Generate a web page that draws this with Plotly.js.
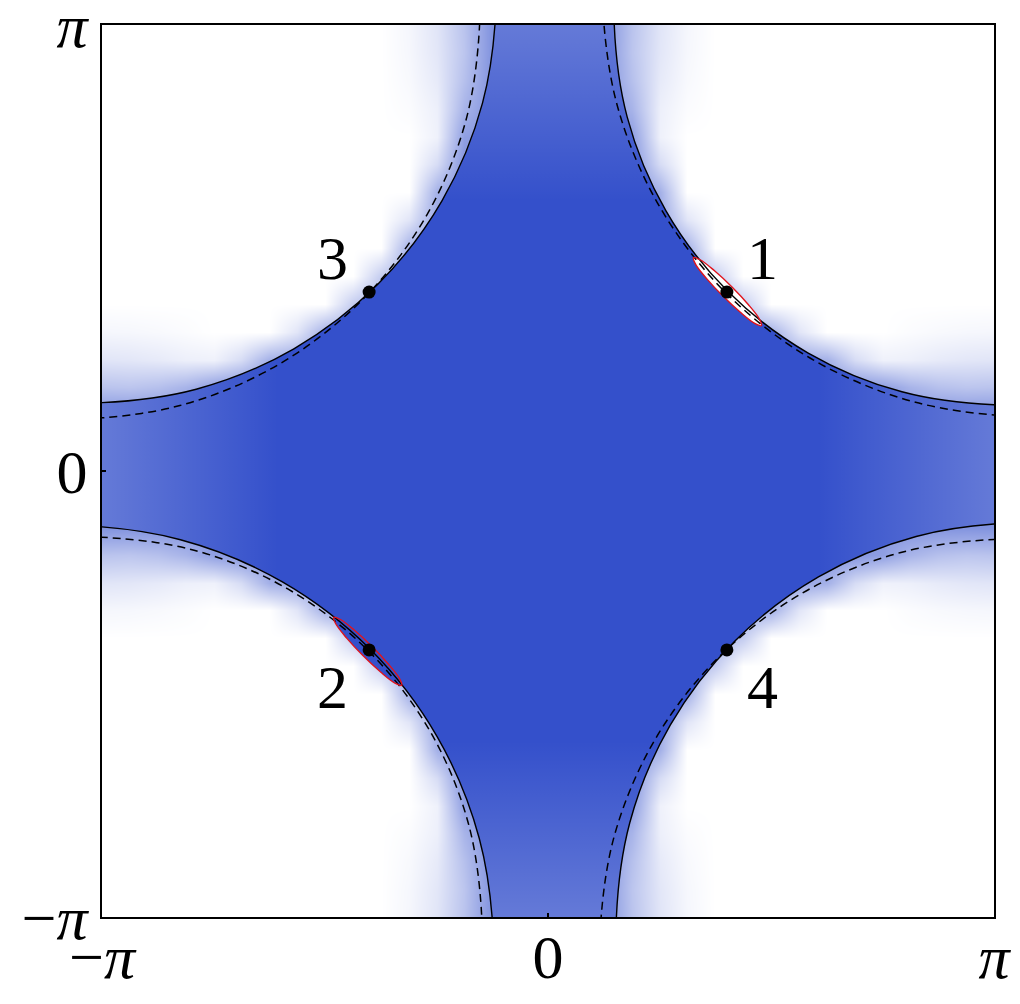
<!DOCTYPE html>
<html>
<head>
<meta charset="utf-8">
<script src="https://cdn.plot.ly/plotly-3.0.1.min.js"></script>
<style>
  html, body { margin: 0; padding: 0; background: #fff; }
  #fermi { width: 1020px; height: 1004px; }
</style>
</head>
<body>
<div id="fermi"></div>
<script>
// faint weight outside the solid contours
// one quadrant (x, y from 0 to pi, step pi/16), rows are y, columns are x; 0 = white, 1 = full blue
const haloQuadrant = [
  [.6, .6, .6, .6, .6, .6, .6, .6, .6, .6, .6, .6, .6, .6, .6, .6, .6],
  [.6, .6, .6, .6, .6, .6, .6, .6, .6, .6, .6, .6, .6, .6, .6, .6, .6],
  [.6, .6, .6, .6, .6, .6, .6, .6, .6, .6, .6, .6, .6, .62, .62, .62, .62],
  [.6, .6, .6, .6, .6, .6, .6, .6, .6, .6, .6, .6, .55, .43, .36, .33, .34],
  [.6, .6, .6, .6, .5, .5, .5, .5, .5, .5, .45, .2, .08, .09, .12, .14, .15],
  [.6, .6, .6, .6, .5, .45, .45, .45, .45, .15, 0, 0, 0, .02, .035, .045, .05],
  [.6, .6, .6, .6, .5, .45, .45, .29, 0, 0, 0, 0, 0, 0, 0, 0, 0],
  [.6, .6, .6, .6, .5, .45, .29, 0, 0, 0, 0, 0, 0, 0, 0, 0, 0],
  [.6, .6, .6, .6, .5, .45, 0, 0, 0, 0, 0, 0, 0, 0, 0, 0, 0],
  [.6, .6, .6, .6, .5, .15, 0, 0, 0, 0, 0, 0, 0, 0, 0, 0, 0],
  [.6, .6, .6, .6, .45, 0, 0, 0, 0, 0, 0, 0, 0, 0, 0, 0, 0],
  [.6, .6, .6, .6, .2, 0, 0, 0, 0, 0, 0, 0, 0, 0, 0, 0, 0],
  [.6, .6, .6, .55, .08, 0, 0, 0, 0, 0, 0, 0, 0, 0, 0, 0, 0],
  [.6, .6, .62, .43, .09, .02, 0, 0, 0, 0, 0, 0, 0, 0, 0, 0, 0],
  [.6, .6, .62, .36, .12, .035, 0, 0, 0, 0, 0, 0, 0, 0, 0, 0, 0],
  [.6, .6, .62, .33, .14, .045, 0, 0, 0, 0, 0, 0, 0, 0, 0, 0, 0],
  [.6, .6, .62, .34, .15, .05, 0, 0, 0, 0, 0, 0, 0, 0, 0, 0, 0]
];

// the four arms get paler towards the zone edge: position where it starts, weight lost at the edge
const armFadeStart = 1.9;
const armFadeLoss = 0.24;

// solid contours, one per corner (first and last point lie just outside the frame)
const solidTRx = [0.4915, 0.4645, 0.558, 0.831, 1.266, 1.833, 2.493, 3.2015, 3.5825];
const solidTRy = [3.5825, 3.2015, 2.493, 1.833, 1.266, 0.831, 0.558, 0.4645, 0.4915];
const solidTLx = [-0.392, -0.364, -0.461, -0.746, -1.199, -1.790, -2.478, -3.216, -3.613];
const solidTLy = [3.728, 3.331, 2.593, 1.905, 1.315, 0.861, 0.576, 0.479, 0.507];
const solidBLx = [-0.411, -0.382, -0.484, -0.781, -1.254, -1.871, -2.589, -3.359, -3.773];
const solidBLy = [-3.773, -3.359, -2.589, -1.871, -1.254, -0.781, -0.484, -0.382, -0.411];
const solidBRx = [3.728, 3.331, 2.593, 1.905, 1.315, 0.861, 0.576, 0.479, 0.507];
const solidBRy = [-0.392, -0.364, -0.461, -0.746, -1.199, -1.790, -2.478, -3.216, -3.613];

// dashed contours
const dashTRx = [0.411, 0.382, 0.484, 0.781, 1.254, 1.871, 2.589, 3.359, 3.773];
const dashTRy = [3.773, 3.359, 2.589, 1.871, 1.254, 0.781, 0.484, 0.382, 0.411];
const dashTLx = [-3.728, -3.331, -2.593, -1.905, -1.315, -0.861, -0.576, -0.479, -0.507];
const dashTLy = [0.392, 0.364, 0.461, 0.746, 1.199, 1.790, 2.478, 3.216, 3.613];
const dashBLx = [-0.4915, -0.4645, -0.558, -0.831, -1.266, -1.833, -2.493, -3.2015, -3.5825];
const dashBLy = [-3.5825, -3.2015, -2.493, -1.833, -1.266, -0.831, -0.558, -0.4645, -0.4915];
const dashBRx = [0.392, 0.364, 0.461, 0.746, 1.199, 1.790, 2.478, 3.216, 3.613];
const dashBRy = [-3.728, -3.331, -2.593, -1.905, -1.315, -0.861, -0.576, -0.479, -0.507];

// small pockets around points 1 and 2
const pocket1x = [1.296, 1.171, 1.072, 1.024, 1.040, 1.116, 1.232, 1.357, 1.456, 1.504, 1.488, 1.412, 1.296];
const pocket1y = [1.296, 1.412, 1.488, 1.504, 1.456, 1.357, 1.232, 1.116, 1.040, 1.024, 1.072, 1.171, 1.296];
const pocket2x = [-1.238, -1.363, -1.462, -1.510, -1.494, -1.418, -1.302, -1.177, -1.078, -1.030, -1.046, -1.122, -1.238];
const pocket2y = [-1.238, -1.122, -1.046, -1.030, -1.078, -1.177, -1.302, -1.418, -1.494, -1.510, -1.462, -1.363, -1.238];

// marked points and their labels
const pointX = [1.26, -1.26, -1.26, 1.26];
const pointY = [1.26, -1.26, 1.26, -1.26];
const pointLabels = ['1', '2', '3', '4'];
const labelX = [1.51, -1.52, -1.52, 1.51];
const labelY = [1.50, -1.52, 1.50, -1.52];

const piTicks = [-Math.PI, 0, Math.PI];
const piTickText = ['\u2212<i>\u03c0</i>', '0', '<i>\u03c0</i>'];

const blue = '#3450cb';
const serif = 'Liberation Serif, Times New Roman, serif';

// mirror the quadrant into the full square grid
var n = haloQuadrant.length - 1;
var gridX = [];
for (var k = -n; k <= n; k++) gridX.push(k * Math.PI / n);
var halo = [];
for (var j = -n; j <= n; j++) {
  var row = [];
  for (var i = -n; i <= n; i++) row.push(haloQuadrant[Math.abs(j)][Math.abs(i)]);
  halo.push(row);
}

// filled region between the four solid contours
var starX = [].concat(solidTRx, solidBRx, solidBLx, solidTLx.slice().reverse());
var starY = [].concat(solidTRy, solidBRy, solidBLy, solidTLy.slice().reverse());

var clear = 'rgba(255,255,255,0)';
var pale = 'rgba(255,255,255,' + armFadeLoss + ')';
var arms = [
  { // top
    x: [].concat(solidTLx.slice(0, 4).reverse(), solidTRx.slice(0, 4)),
    y: [].concat(solidTLy.slice(0, 4).reverse(), solidTRy.slice(0, 4)),
    g: {type: 'vertical', start: armFadeStart, stop: Math.PI, colorscale: [[0, clear], [1, pale]]}
  },
  { // bottom
    x: [].concat(solidBRx.slice(5), solidBLx.slice(0, 4)),
    y: [].concat(solidBRy.slice(5), solidBLy.slice(0, 4)),
    g: {type: 'vertical', start: -Math.PI, stop: -armFadeStart, colorscale: [[0, pale], [1, clear]]}
  },
  { // right
    x: [].concat(solidTRx.slice(5), solidBRx.slice(0, 4)),
    y: [].concat(solidTRy.slice(5), solidBRy.slice(0, 4)),
    g: {type: 'horizontal', start: armFadeStart, stop: Math.PI, colorscale: [[0, clear], [1, pale]]}
  },
  { // left
    x: [].concat(solidBLx.slice(5), solidTLx.slice(5).reverse()),
    y: [].concat(solidBLy.slice(5), solidTLy.slice(5).reverse()),
    g: {type: 'horizontal', start: -Math.PI, stop: -armFadeStart, colorscale: [[0, pale], [1, clear]]}
  }
];

var traces = [
  {
    type: 'heatmap', x: gridX, y: gridX, z: halo,
    zmin: 0, zmax: 1, zsmooth: 'best',
    colorscale: [[0, '#ffffff'], [1, blue]],
    showscale: false, hoverinfo: 'skip'
  },
  {
    type: 'scatter', mode: 'lines', x: starX, y: starY,
    fill: 'toself', fillcolor: blue, line: {width: 0, shape: 'spline'}, hoverinfo: 'skip'
  }
];

arms.forEach(function (a) {
  traces.push({
    type: 'scatter', mode: 'lines', x: a.x, y: a.y,
    fill: 'toself', fillgradient: a.g, line: {width: 0, shape: 'spline'}, hoverinfo: 'skip'
  });
});

traces.push({
  type: 'scatter', mode: 'lines', x: pocket1x, y: pocket1y,
  fill: 'toself', fillcolor: '#ffffff', line: {width: 0, shape: 'spline'}, hoverinfo: 'skip'
});
traces.push({
  type: 'scatter', mode: 'lines', x: pocket2x, y: pocket2y,
  fill: 'toself', fillcolor: blue, line: {width: 0, shape: 'spline'}, hoverinfo: 'skip'
});

var solidArcs = [[solidTRx, solidTRy], [solidTLx, solidTLy], [solidBLx, solidBLy], [solidBRx, solidBRy]];
var dashArcs = [[dashTRx, dashTRy], [dashTLx, dashTLy], [dashBLx, dashBLy], [dashBRx, dashBRy]];

solidArcs.forEach(function (a) {
  traces.push({
    type: 'scatter', mode: 'lines', x: a[0], y: a[1],
    line: {color: '#000', width: 1.4, shape: 'spline'}, hoverinfo: 'skip'
  });
});
dashArcs.forEach(function (a) {
  traces.push({
    type: 'scatter', mode: 'lines', x: a[0], y: a[1],
    line: {color: '#000', width: 1.5, shape: 'spline', dash: '8px,5px'}, hoverinfo: 'skip'
  });
});

[[pocket1x, pocket1y], [pocket2x, pocket2y]].forEach(function (p) {
  traces.push({
    type: 'scatter', mode: 'lines', x: p[0], y: p[1],
    line: {color: '#e0141c', width: 1.4, shape: 'spline'}, hoverinfo: 'skip'
  });
});

traces.push({
  type: 'scatter', mode: 'markers', x: pointX, y: pointY,
  marker: {color: '#000', size: 13}, hoverinfo: 'skip'
});

var axisStyle = {
  range: [-Math.PI, Math.PI],
  tickmode: 'array', tickvals: piTicks, ticktext: piTickText,
  ticks: 'inside', ticklen: 4, tickwidth: 2, tickcolor: '#000',
  ticklabeloverflow: 'allow',
  showline: true, linecolor: '#000', linewidth: 2, mirror: true,
  showgrid: false, zeroline: false, fixedrange: true,
  tickfont: {family: serif, size: 62, color: '#000'}
};

var layout = {
  width: 1020, height: 1004,
  margin: {l: 102, r: 26, t: 25, b: 87},
  paper_bgcolor: '#ffffff', plot_bgcolor: '#ffffff',
  showlegend: false,
  xaxis: Object.assign({}, axisStyle, {ticklabelstandoff: -15}),
  yaxis: Object.assign({}, axisStyle),
  annotations: pointLabels.map(function (t, k) {
    return {
      x: labelX[k], y: labelY[k], xref: 'x', yref: 'y', text: t,
      showarrow: false, xanchor: 'center', yanchor: 'middle',
      font: {family: serif, size: 62, color: '#000'}
    };
  })
};

Plotly.newPlot('fermi', traces, layout, {displayModeBar: false});
</script>
</body>
</html>
